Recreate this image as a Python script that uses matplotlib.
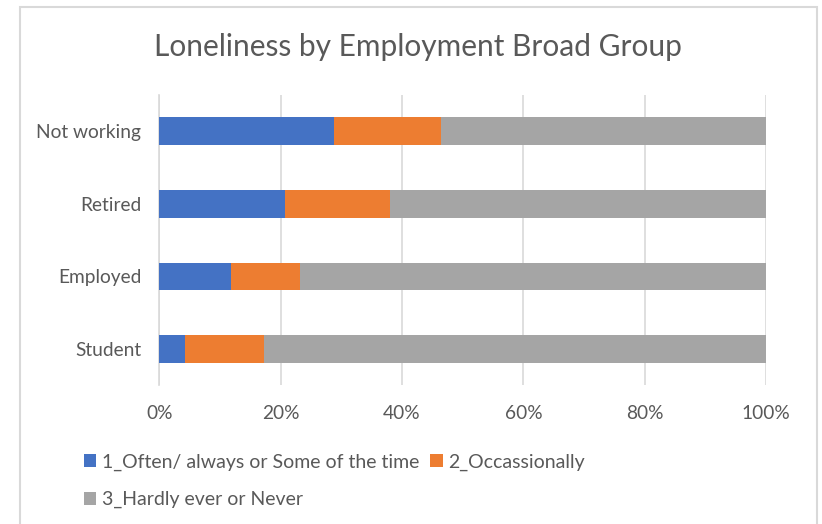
import numpy as np
import matplotlib
matplotlib.use('Agg')
import matplotlib.pyplot as plt
from matplotlib.patches import Rectangle

plt.rcParams['font.family'] = ['Lato', 'DejaVu Sans']

# data (share of each group, %)
groups = ['Not working', 'Retired', 'Employed', 'Student']
often = [28.8, 20.8, 11.9, 4.3]
occasionally = [17.6, 17.2, 11.3, 13.0]
hardly = [53.6, 62.0, 76.8, 82.7]
series_names = ['1_Often/ always or Some of the time', '2_Occassionally',
                '3_Hardly ever or Never']
colors = ['#4472C4', '#ED7D31', '#A5A5A5']
text_col = '#595959'

fig = plt.figure(figsize=(8.22, 5.24), dpi=100)
ax = fig.add_axes([159.3 / 822, 138.6 / 524, 606.7 / 822, 290.7 / 524])

y = np.arange(len(groups))[::-1]
left = np.zeros(len(groups))
handles = []
for vals, name, c in zip([often, occasionally, hardly], series_names, colors):
    h = ax.barh(y, vals, left=left, height=0.38, color=c, label=name, zorder=3)
    handles.append(h)
    left = left + np.array(vals)

ax.set_xlim(0, 100)
ax.set_ylim(-0.5, len(groups) - 0.5)
ax.set_xticks(np.arange(0, 101, 20))
ax.set_xticklabels([f'{v}%' for v in range(0, 101, 20)])
ax.set_yticks(y)
ax.set_yticklabels(groups)
ax.tick_params(axis='both', length=0, labelsize=13.8, colors=text_col)
ax.tick_params(axis='x', pad=14)
ax.tick_params(axis='y', pad=13)
ax.grid(axis='x', color='#D9D9D9', linewidth=1.2, zorder=0)
for s in ['top', 'right', 'bottom']:
    ax.spines[s].set_visible(False)
ax.spines['left'].set_color('#D9D9D9')
ax.spines['left'].set_linewidth(1.2)

fig.text(418 / 822, 1 - 47 / 524, 'Loneliness by Employment Broad Group',
         ha='center', va='center', fontsize=21.5, color=text_col)

# order so rows read: 1, 2 / 3
leg = fig.legend([handles[0], handles[2], handles[1]],
                 [series_names[0], series_names[2], series_names[1]],
                 ncol=2, loc='upper left', bbox_to_anchor=(66 / 822, 1 - 436 / 524),
                 frameon=False, fontsize=14.0, handlelength=0.65, handleheight=0.65,
                 handletextpad=0.3, columnspacing=0.55, labelspacing=1.05,
                 labelcolor=text_col)

fig.patches.append(Rectangle((19.5 / 822, -0.05), (817 - 19.5) / 822, 1.05 - 7 / 524,
                             transform=fig.transFigure, fill=False,
                             edgecolor='#D9D9D9', linewidth=1.5))

fig.savefig('out.png', dpi=100)
